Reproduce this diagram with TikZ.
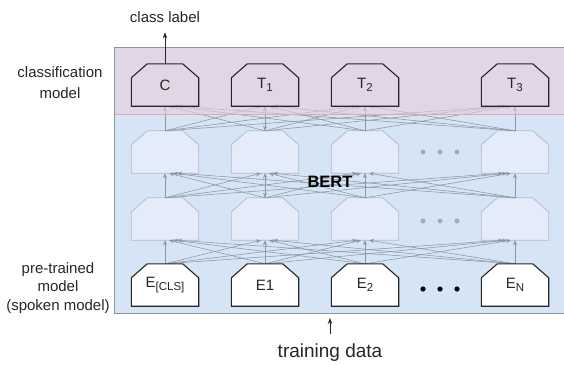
\documentclass[tikz,border=0pt]{standalone}
\usepackage{fontspec}
\setmainfont{Liberation Sans}
\usetikzlibrary{arrows.meta,calc}
\definecolor{bgblue}{RGB}{214,229,245}
\definecolor{bgpurple}{RGB}{212,196,218}
\definecolor{hidfill}{RGB}{227,236,248}
\definecolor{hidline}{RGB}{178,188,202}
\definecolor{conn}{RGB}{140,150,165}
\definecolor{pinkline}{RGB}{228,165,185}
\definecolor{framec}{RGB}{140,148,160}
\definecolor{ink}{RGB}{38,38,38}
\definecolor{dotgray}{RGB}{165,172,185}
\newcommand\chamfbox[2]{\draw[#2] (#1.south west) -- ([yshift=-14pt]#1.north west) -- ([xshift=16pt]#1.north west) -- ([xshift=-16pt]#1.north east) -- ([yshift=-14pt]#1.north east) -- (#1.south east) -- cycle;}
\newcommand\lowsub[1]{\raisebox{-0.4ex}{\fontsize{11.5}{12}\selectfont #1}}
\begin{document}
\begin{tikzpicture}[x=1pt,y=-1pt,
  unit/.style={rectangle,inner sep=0pt,minimum width=67pt,minimum height=42pt,font=\fontsize{15}{18}\selectfont,text=ink},
  topbox/.style={draw=ink,line width=1.1pt},
  hidbox/.style={draw=hidline,fill=hidfill,line width=0.8pt},
  embbox/.style={draw=ink,fill=white,line width=1.1pt},
  conn/.style={draw=conn,line width=0.55pt,-{Stealth[length=5pt,width=4pt]}},
  conn2/.style={draw=conn,line width=0.55pt,{Stealth[length=5pt,width=4pt]}-{Stealth[length=5pt,width=4pt]}},
  lbl/.style={font=\fontsize{15}{18.5}\selectfont,text=ink,inner sep=0pt,align=center},
  arr/.style={draw=ink,line width=0.8pt,-{Stealth[length=6pt,width=4.5pt]}}
]
\useasboundingbox (0,0) rectangle (564,364);
% background
\fill[bgblue] (114,114) rectangle (570,313);
% nodes
\foreach \c/\x in {1/165,2/265,3/365,4/515}{
  \node[unit] (c\c) at (\x,85) {};
  \node[unit] (u\c) at (\x,152) {};
  \node[unit] (l\c) at (\x,219) {};
}
\node[unit] (e1) at (165,285) {E\lowsub{[CLS]}};
\node[unit] (e2) at (265,285) {E1};
\node[unit] (e3) at (365,285) {E\lowsub{2}};
\node[unit] (e4) at (515,285) {E\lowsub{N}};
\foreach \c in {1,...,4}{
  \chamfbox{u\c}{hidbox}
  \chamfbox{l\c}{hidbox}
}
% dots
\foreach \xx in {423,440,457}{
  \fill[dotgray] (\xx,152) circle (2.5);
  \fill[dotgray] (\xx,221) circle (2.5);
}
% connections
\foreach \a in {1,...,4}{
  \foreach \b in {1,...,4}{
    \pgfmathsetmacro\off{4*(\a-\b)}
    \ifnum\a=\b\relax
      \draw[conn] (e\a.north) -- (l\b.south);
      \ifnum\a=2
        \draw[conn2] (l\a.north) -- (u\b.south);
        \draw[conn2] (u\a.north) -- (c\b.south);
      \else
        \draw[conn] (l\a.north) -- (u\b.south);
        \draw[conn] (u\a.north) -- (c\b.south);
      \fi
    \else
      \draw[conn] (e\a.north) -- ([xshift=\off pt]l\b.south);
      \draw[conn] (l\a.north) -- ([xshift=\off pt]u\b.south);
      \draw[conn] (u\a.north) -- ([xshift=\off pt]c\b.south);
    \fi
  }
}
\foreach \c in {1,...,4}{
  \chamfbox{e\c}{embbox}
}
\node[unit] at (e1) {E\lowsub{[CLS]}};
\node[unit] at (e2) {E1};
\node[unit] at (e3) {E\lowsub{2}};
\node[unit] at (e4) {E\lowsub{N}};
\foreach \xx in {423,440,457}{
  \fill[black] (\xx,289) circle (2.6);
}
% purple overlay
\fill[bgpurple,fill opacity=0.7] (114,47) rectangle (570,114);
\draw[pinkline,line width=1pt] (114,114) -- (570,114);
% frame
\draw[framec,line width=0.9pt] (570,47) -- (114,47) -- (114,313) -- (570,313);
% top boxes
\foreach \c in {1,...,4}{
  \chamfbox{c\c}{topbox}
}
\node[unit] at (c1) {C};
\node[unit] at (c2) {T\lowsub{1}};
\node[unit] at (c3) {T\lowsub{2}};
\node[unit] at (c4) {T\lowsub{3}};
% BERT
\node[font=\fontsize{16.5}{18}\selectfont\bfseries,text=black,inner sep=0pt] (bert) at (330,182) {BERT};
% labels
\node[lbl,anchor=base] (cl) at (165,22) {class label};
\draw[arr,shorten >=10pt] (c1.north) -- (cl.south);
\node[lbl,font=\fontsize{15}{21}\selectfont] (cm) at (60,82.5) {classification\\model};
\node[lbl] (pm) at (58,288) {pre-trained\\model\\(spoken model)};
\node[lbl,anchor=base,font=\fontsize{19}{22}\selectfont] (td) at (330,357) {training data};
\coordinate (tdtip) at (330,318);
\draw[arr,shorten <=9pt] (td.north) -- (tdtip);
\end{tikzpicture}
\end{document}
